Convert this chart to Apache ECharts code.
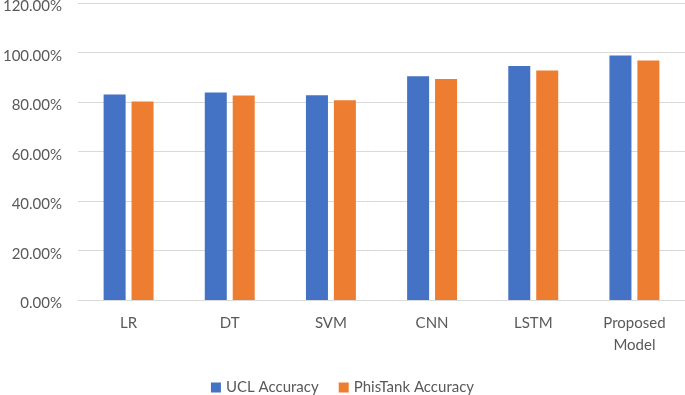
<!DOCTYPE html>
<html>
<head>
<meta charset="utf-8">
<script src="https://cdn.jsdelivr.net/npm/echarts@6/dist/echarts.min.js"></script>
<style>
  html, body { margin: 0; padding: 0; background: #fff; }
  #chart { width: 685px; height: 395px; }
</style>
</head>
<body>
<div id="chart"></div>
<script>
// 数据
var categories = ["LR", "DT", "SVM", "CNN", "LSTM", "Proposed\nModel"];
var uclAccuracy = [83.0, 83.8, 82.7, 90.4, 94.5, 98.8];
var phisTankAccuracy = [80.2, 82.6, 80.7, 89.3, 92.7, 96.8];
var seriesNames = ["UCL Accuracy", "PhisTank Accuracy"];

var myChart = echarts.init(document.getElementById("chart"));
var fontFamily = "Lato, 'Open Sans', sans-serif";
var option = {
  animation: false,
  color: ["#4472c4", "#ed7d31"],
  grid: {
    left: 78,
    right: 0,
    top: 3,
    bottom: 95,
    outerBoundsMode: "none",
  },
  legend: {
    data: seriesNames,
    top: 380,
    left: "center",
    padding: 0,
    itemWidth: 10,
    itemHeight: 10,
    itemGap: 20,
    icon: "rect",
    textStyle: {
      color: "#595959",
      fontSize: 15,
      fontFamily: fontFamily,
    },
  },
  xAxis: {
    type: "category",
    data: categories,
    axisTick: { show: false },
    axisLine: { lineStyle: { color: "#d9d9d9" } },
    axisLabel: {
      color: "#595959",
      fontSize: 15,
      fontFamily: fontFamily,
      margin: 12,
      lineHeight: 22,
    },
  },
  yAxis: {
    type: "value",
    min: 0,
    max: 120,
    interval: 20,
    axisLine: { show: false },
    axisTick: { show: false },
    axisLabel: {
      color: "#595959",
      fontSize: 15,
      fontFamily: fontFamily,
      margin: 16,
      formatter: function (v) {
        return "{v|" + v.toFixed(2) + "%}";
      },
      rich: {
        v: {
          color: "#595959",
          fontSize: 15,
          fontFamily: fontFamily,
          padding: [7, 0, 0, 0],
        },
      },
    },
    splitLine: {
      lineStyle: { color: "#d9d9d9", width: 1 },
    },
  },
  series: [
    {
      name: seriesNames[0],
      type: "bar",
      data: uclAccuracy,
      barWidth: 22,
      barGap: "27%",
    },
    {
      name: seriesNames[1],
      type: "bar",
      data: phisTankAccuracy,
      barWidth: 22,
    },
  ],
};
myChart.setOption(option);
</script>
</body>
</html>
